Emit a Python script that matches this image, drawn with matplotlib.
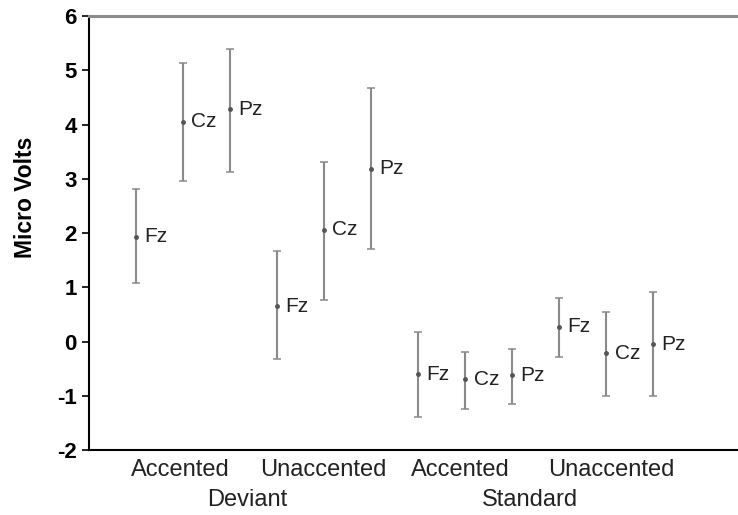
import numpy as np
import matplotlib
matplotlib.use('Agg')
import matplotlib.pyplot as plt
import matplotlib.transforms as mtransforms

plt.rcParams['font.family'] = ['Liberation Sans', 'DejaVu Sans']
plt.rcParams['axes.unicode_minus'] = False

# electrode sites, in plotting order (Deviant Acc, Deviant Unacc, Standard Acc, Standard Unacc)
sites = ['Fz', 'Cz', 'Pz'] * 4
means = [1.93, 4.05, 4.28, 0.65, 2.06, 3.18, -0.60, -0.70, -0.62, 0.27, -0.22, -0.05]
upper = [2.81, 5.14, 5.40, 1.66, 3.30, 4.67, 0.18, -0.19, -0.14, 0.81, 0.55, 0.92]
lower = [1.07, 2.95, 3.13, -0.33, 0.76, 1.70, -1.39, -1.25, -1.15, -0.29, -1.00, -1.00]

cond_labels = ['Accented', 'Unaccented', 'Accented', 'Unaccented']
cond_pos = [1.94, 4.98, 7.9, 11.1]
group_labels = ['Deviant', 'Standard']
group_pos = [3.36, 9.38]

x = np.arange(1, len(means) + 1)
means = np.array(means)
yerr = [means - np.array(lower), np.array(upper) - means]

fig = plt.figure(figsize=(7.38, 5.15), dpi=100)
ax = fig.add_axes([0.1206, 0.1262, 0.8794, 0.8427])

ax.errorbar(x, means, yerr=yerr, fmt='o', ms=2.5, color='#777777', mfc='#555555', mec='#555555',
            ecolor='#8a8a8a', elinewidth=1.5, capsize=3, capthick=1.1)

for xi, yi, s in zip(x, means, sites):
    ax.annotate(s, (xi, yi), xytext=(6, 0), textcoords='offset points',
                ha='left', va='center', fontsize=15, color='#222222')

ax.set_xlim(0, 13.8)
ax.set_ylim(-2, 6)
ax.set_yticks(range(-2, 7))
ax.set_xticks([])
for lab in ax.get_yticklabels():
    lab.set_fontweight('bold')
ax.tick_params(axis='y', labelsize=16, length=5, width=1.2, direction='out', pad=4)
ax.set_ylabel('Micro Volts', fontsize=16.5, fontweight='bold')
ax.yaxis.set_label_coords(-0.080, 0.583)

ax.spines['right'].set_visible(False)
ax.spines['left'].set_linewidth(1.5)
ax.spines['bottom'].set_linewidth(1.5)
ax.spines['top'].set_color('#8c8c8c')
ax.spines['top'].set_linewidth(2.2)

trans = mtransforms.blended_transform_factory(ax.transData, ax.transAxes)
for p, t in zip(cond_pos, cond_labels):
    ax.text(p, -0.046, t, transform=trans, ha='center', va='center', fontsize=17, color='#222222')
for p, t in zip(group_pos, group_labels):
    ax.text(p, -0.115, t, transform=trans, ha='center', va='center', fontsize=17, color='#222222')

fig.savefig('out.png', dpi=100)
